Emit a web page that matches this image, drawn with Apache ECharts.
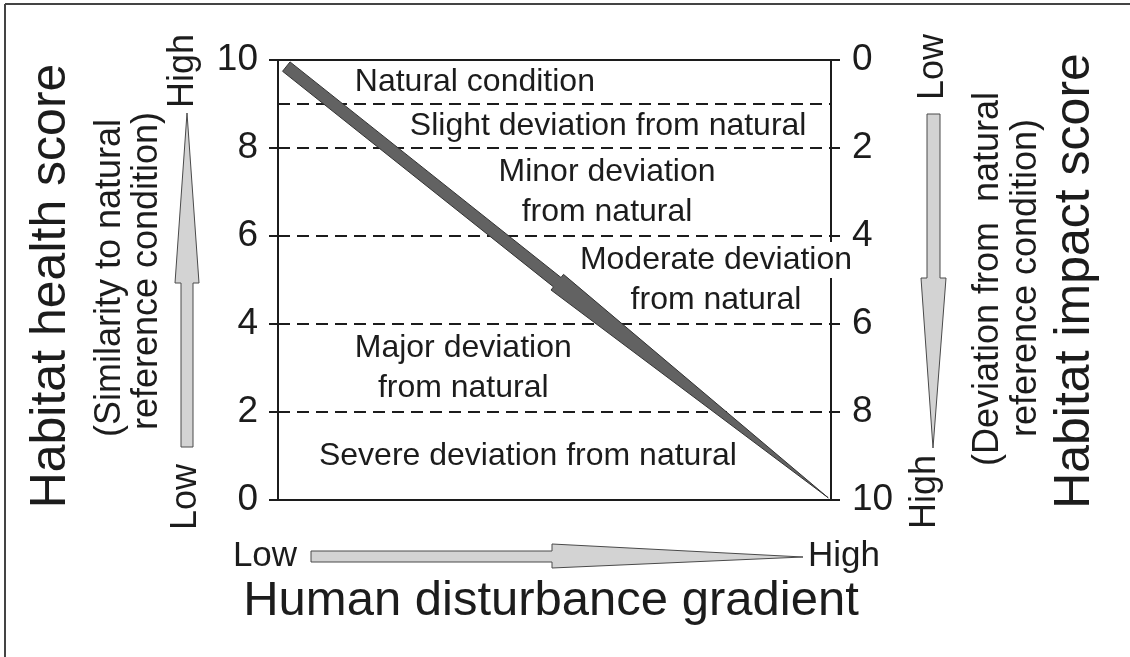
<!DOCTYPE html>
<html>
<head>
<meta charset="utf-8">
<script src="https://cdn.jsdelivr.net/npm/echarts@6/dist/echarts.min.js"></script>
<style>
  html, body { margin: 0; padding: 0; background: #fff; }
  #main { width: 1130px; height: 657px; }
</style>
</head>
<body>
<div id="main"></div>
<script>
// score ticks (left: health 0..10, right: impact 10..0)
const healthTicks = [0, 2, 4, 6, 8, 10];
// dashed class boundaries on the health score axis
const classBounds = [9, 8, 6, 4, 2];
// class labels: [x (disturbance), y (health), text]
const classLabels = [
  [3.56, 9.5, "Natural condition"],
  [5.97, 8.5, "Slight deviation from natural"],
  [5.95, 7.0, "Minor deviation\nfrom natural"],
  [7.92, 5.0, "Moderate deviation\nfrom natural"],
  [3.35, 3.0, "Major deviation\nfrom natural"],
  [4.52, 1.0, "Severe deviation from natural"]
];
// big diagonal arrow: start, neck (head base), tip
const trendArrow = [[0.15, 9.85], [5.05, 4.95], [9.95, 0.05]];

const FONT = "'Liberation Sans', Arial, Helvetica, sans-serif";
const INK = "#1c1c1c";

let myChart = echarts.init(document.getElementById("main"));

function txt(x, y, text, size, rot) {
  return {
    type: "text",
    x: x,
    y: y,
    rotation: rot || 0,
    style: {
      text: text,
      fill: INK,
      fontSize: size,
      fontFamily: FONT,
      align: "center",
      verticalAlign: "middle"
    }
  };
}

// light gray block arrows (decoration outside the plot)
function blockArrow(pts) {
  return {
    type: "polygon",
    shape: { points: pts },
    style: { fill: "#d3d3d3", stroke: "#4a4a4a", lineWidth: 1 }
  };
}

const axisLine = { show: true, onZero: false, lineStyle: { color: INK, width: 2 } };

let option = {
  backgroundColor: "#fff",
  animation: false,
  grid: { left: 278, top: 60, width: 553, height: 440 },
  xAxis: [
    {
      type: "value", min: 0, max: 10, position: "bottom",
      axisLine: axisLine,
      axisTick: { show: false }, axisLabel: { show: false }, splitLine: { show: false }
    },
    {
      type: "value", min: 0, max: 10, position: "top",
      axisLine: axisLine,
      axisTick: { show: false }, axisLabel: { show: false }, splitLine: { show: false }
    }
  ],
  yAxis: [
    {
      type: "value", min: 0, max: 10, interval: 2, position: "left",
      axisLine: axisLine,
      axisTick: { show: true, length: 9, lineStyle: { color: INK, width: 2 } },
      axisLabel: {
        color: INK, fontSize: 37, fontFamily: FONT, margin: 20,
        formatter: v => (healthTicks.indexOf(v) >= 0 ? String(v) : "")
      },
      splitLine: { show: false }
    },
    {
      type: "value", min: 0, max: 10, interval: 2, position: "right", inverse: true,
      axisLine: axisLine,
      axisTick: { show: true, length: 9, lineStyle: { color: INK, width: 2 } },
      axisLabel: { color: INK, fontSize: 37, fontFamily: FONT, margin: 21 },
      splitLine: { show: false }
    }
  ],
  series: [
    {
      // dashed boundaries between condition classes
      type: "line",
      data: [],
      silent: true,
      markLine: {
        symbol: "none",
        silent: true,
        label: { show: false },
        lineStyle: { color: INK, width: 2, type: [12, 7] },
        data: classBounds.map(v => ({ yAxis: v }))
      }
    },
    {
      // diagonal trend arrow
      type: "custom",
      data: [0],
      silent: true,
      z: 5,
      renderItem: function (params, api) {
        const s = api.coord(trendArrow[0]);
        const n = api.coord(trendArrow[1]);
        const t = api.coord(trendArrow[2]);
        const dx = t[0] - s[0], dy = t[1] - s[1];
        const len = Math.sqrt(dx * dx + dy * dy);
        const px = -dy / len, py = dx / len;
        const hw = 6, HW = 10;
        const pts = [
          [s[0] + px * hw, s[1] + py * hw],
          [n[0] + px * hw, n[1] + py * hw],
          [n[0] + px * HW, n[1] + py * HW],
          [t[0], t[1]],
          [n[0] - px * HW, n[1] - py * HW],
          [n[0] - px * hw, n[1] - py * hw],
          [s[0] - px * hw, s[1] - py * hw]
        ];
        return {
          type: "polygon",
          shape: { points: pts },
          style: { fill: "#626262", stroke: "#333", lineWidth: 1 }
        };
      }
    },
    {
      // class labels (the moderate one sits over the right axis line)
      type: "custom",
      data: classLabels,
      silent: true,
      z: 4,
      renderItem: function (params, api) {
        const p = api.coord([api.value(0), api.value(1)]);
        const lines = classLabels[params.dataIndex][2].split("\n");
        const onAxis = params.dataIndex === 3;
        const children = lines.map((line, i) => ({
          type: "text",
          x: p[0],
          y: p[1] + (i - (lines.length - 1) / 2) * 40,
          style: {
            text: line,
            fill: INK,
            fontSize: 32,
            fontFamily: FONT,
            align: "center",
            verticalAlign: "middle",
            backgroundColor: onAxis && i === 0 ? "#fff" : null,
            padding: onAxis && i === 0 ? [2, 0] : 0
          }
        }));
        return { type: "group", children: children };
      }
    }
  ],
  graphic: [
    // frame
    { type: "line", shape: { x1: 5, y1: 4, x2: 1130, y2: 4 }, style: { stroke: "#444", lineWidth: 2 } },
    { type: "line", shape: { x1: 5, y1: 4, x2: 5, y2: 657 }, style: { stroke: "#444", lineWidth: 2 } },
    // left axis titles
    txt(51, 286, "Habitat health score", 50, Math.PI / 2),
    txt(110, 278, "(Similarity to natural", 36, Math.PI / 2),
    txt(147, 271, "reference condition)", 36, Math.PI / 2),
    txt(183, 71, "High", 36, Math.PI / 2),
    txt(186, 497, "Low", 36, Math.PI / 2),
    blockArrow([[181, 447], [181, 283], [175, 283], [187, 113], [199, 283], [193, 283], [193, 447]]),
    // right axis titles
    txt(1075, 281, "Habitat impact score", 50, Math.PI / 2),
    txt(988, 279, "(Deviation from  natural", 36, Math.PI / 2),
    txt(1026, 278, "reference condition)", 36, Math.PI / 2),
    txt(933, 67, "Low", 36, Math.PI / 2),
    txt(925, 492, "High", 36, Math.PI / 2),
    blockArrow([[927, 114], [940, 114], [940, 278], [946, 278], [933, 448], [921, 278], [927, 278]]),
    // bottom gradient
    txt(265, 556, "Low", 35),
    txt(844, 556, "High", 35),
    blockArrow([[311, 551], [552, 551], [552, 544], [803, 557], [552, 568], [552, 562], [311, 562]]),
    txt(551, 601, "Human disturbance gradient", 49)
  ]
};
myChart.setOption(option);
</script>
</body>
</html>
